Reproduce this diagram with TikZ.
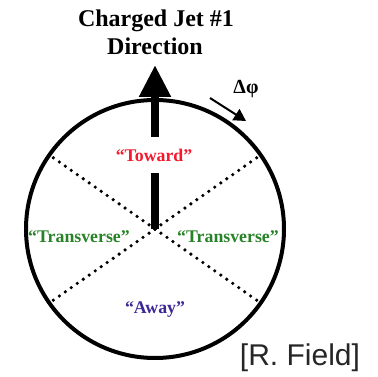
\documentclass[tikz,border=0pt]{standalone}
\usepackage{fontspec}
\setmainfont{Liberation Serif}
\setsansfont{Liberation Sans}
\usetikzlibrary{arrows.meta,calc}
\definecolor{toward}{RGB}{245,25,45}
\definecolor{trans}{RGB}{40,130,40}
\definecolor{away}{RGB}{60,40,150}
\begin{document}
\begin{tikzpicture}[x=1pt,y=-1pt,
  region/.style={font=\fontsize{17.8}{20}\selectfont\bfseries, inner sep=1pt},
  sector/.style={line width=3.6pt, line cap=round, dash pattern=on 0pt off 7.3pt},
  title/.style={font=\fontsize{24}{27}\selectfont\bfseries, anchor=base}]
\useasboundingbox (0,0) rectangle (378,377);
\coordinate (c) at (155,229);
\node (circ) [circle, draw, line width=4pt, minimum size=258pt, inner sep=0pt] at (c) {};
\foreach \a/\n in {35/ur,145/ul,215/ll,325/lr}
  \coordinate (\n) at ($(c)+(\a:125)$);
\draw[sector] (c) -- (ur);
\draw[sector] (c) -- (ul);
\draw[sector] (c) -- (ll);
\draw[sector] (c) -- (lr);
\coordinate (tip) at (155,65);
\draw[line width=8pt, -{Triangle[length=32pt,width=30pt]}] (c) -- (tip);
\node (toward) [region, text=toward, fill=white, minimum height=36pt] at (154,155) {“Toward”};
\node (tl) [region, text=trans] at (79,237) {“Transverse”};
\node (tr) [region, text=trans] at (228,237) {“Transverse”};
\node (away) [region, text=away] at (155,310) {“Away”};
\node (t1) [title] at (156,27) {Charged Jet \#1};
\node (t2) [title] at (155,55) {Direction};
\node (dphi) [font=\fontsize{20}{22}\selectfont\bfseries, inner sep=0pt] at (246,89) {Δφ};
\coordinate (da) at (210,98);
\coordinate (db) at (246,121);
\draw[line width=2pt, -{Triangle[length=12pt,width=13pt]}] (da) -- (db);
\node (cred) [font=\sffamily\fontsize{30}{34}\selectfont, text=black!85] at (300,358) {[R. Field]};
\end{tikzpicture}
\end{document}
